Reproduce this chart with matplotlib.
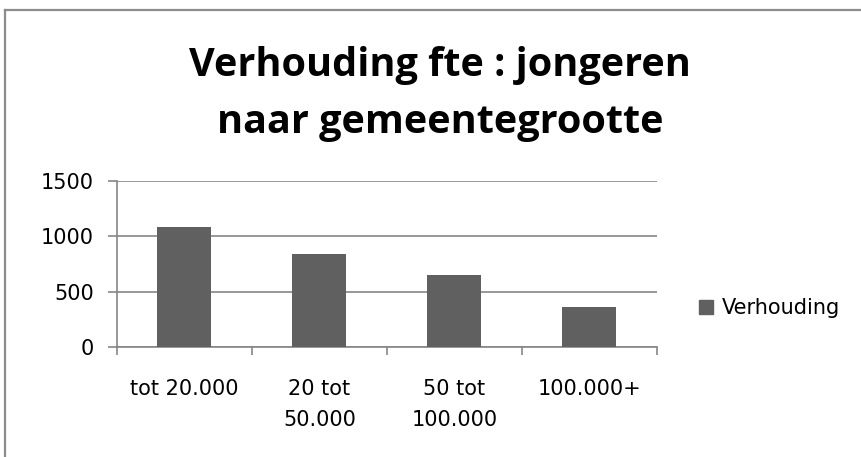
import matplotlib
matplotlib.use("Agg")
import matplotlib.pyplot as plt
from matplotlib.patches import Rectangle
from matplotlib.lines import Line2D

categories = ["tot 20.000", "20 tot\n50.000", "50 tot\n100.000", "100.000+"]
values = [1088, 844, 653, 363]
series_name = "Verhouding"
yticks = [0, 500, 1000, 1500]
title_lines = ["Verhouding fte : jongeren", "naar gemeentegrootte"]

W, H = 862, 457
fig = plt.figure(figsize=(W / 100, H / 100), dpi=100)
fig.patch.set_facecolor("white")

# chart border (top and left visible)
fig.add_artist(Line2D([5 / W, 5 / W], [0, 1 - 10 / H], color="#8c8c8c", lw=1.6,
                      transform=fig.transFigure))
fig.add_artist(Line2D([5 / W, 1], [1 - 10 / H, 1 - 10 / H], color="#8c8c8c", lw=1.6,
                      transform=fig.transFigure))

left, right, top, bottom = 117, 657, 181, 347
ax = fig.add_axes([left / W, 1 - bottom / H, (right - left) / W, (bottom - top) / H])

x = list(range(len(categories)))
ax.bar(x, values, width=0.4, color="#606060", zorder=3, label=series_name)
ax.set_xlim(-0.5, len(categories) - 0.5)
ax.set_ylim(0, 1500)
ax.set_yticks(yticks)
ax.set_yticklabels([str(t) for t in yticks], fontsize=15, family="DejaVu Sans")
ax.yaxis.grid(True, color="#868686", lw=1.2, zorder=0)
for s in ["top", "right"]:
    ax.spines[s].set_visible(False)
ax.spines["left"].set_color("#868686")
ax.spines["bottom"].set_color("#868686")
ax.spines["left"].set_linewidth(1.2)
ax.spines["bottom"].set_linewidth(1.2)
ax.tick_params(axis="y", length=6.5, width=1.2, color="#868686", pad=10)

# category boundary ticks on x axis
ax.set_xticks([i - 0.5 for i in range(len(categories) + 1)])
ax.set_xticklabels([])
ax.tick_params(axis="x", which="major", length=5.5, width=1.2, color="#868686")
ax.set_xticks(x, minor=True)
ax.set_xticklabels(categories, minor=True, fontsize=15, family="DejaVu Sans",
                   linespacing=1.7)
ax.tick_params(axis="x", which="minor", length=0, pad=23)

fig.text(440 / W, 1 - 76 / H, title_lines[0], ha="center", va="baseline",
         fontsize=28.5, fontweight="bold", family="Open Sans")
fig.text(440 / W, 1 - 133 / H, title_lines[1], ha="center", va="baseline",
         fontsize=28.5, fontweight="bold", family="Open Sans")

fig.legend(handles=[Rectangle((0, 0), 1, 1, color="#606060")], labels=[series_name],
           loc="center left", bbox_to_anchor=(699 / W, 1 - 308 / H), frameon=False,
           prop={"family": "DejaVu Sans", "size": 15}, borderpad=0, borderaxespad=0,
           handlelength=0.67, handleheight=0.67, handletextpad=0.43)

fig.savefig("out.png", dpi=100)
